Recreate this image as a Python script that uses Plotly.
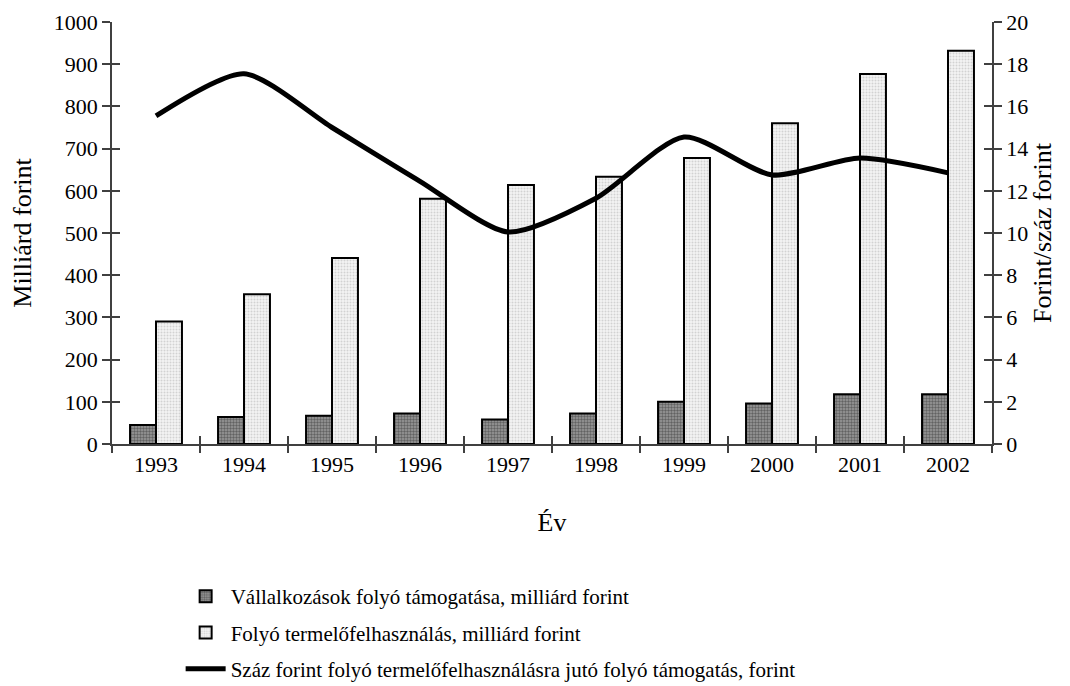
import plotly.graph_objects as go

years = [1993, 1994, 1995, 1996, 1997, 1998, 1999, 2000, 2001, 2002]
tamogatas = [45, 64, 67, 72, 58, 72, 100, 96, 118, 118]
felhasznalas = [290, 355, 441, 581, 614, 633, 678, 760, 877, 932]
arany = [15.55, 17.55, 15.0, 12.45, 10.05, 11.65, 14.55, 12.75, 13.55, 12.85]

names = [
    "Vállalkozások folyó támogatása, milliárd forint",
    "Folyó termelőfelhasználás, milliárd forint",
    "Száz forint folyó termelőfelhasználásra jutó folyó támogatás, forint",
]

FONT = "Liberation Serif"
AX = "#404040"

fig = go.Figure()
fig.add_trace(go.Bar(
    x=years, y=tamogatas, name=names[0], legendgroup="a",
    marker=dict(color="#8a8a8a", line=dict(color="black", width=2),
                pattern=dict(shape=".", fgcolor="#2a2a2a", bgcolor="#9a9a9a", size=3, solidity=0.5)),
))
fig.add_trace(go.Bar(
    x=years, y=felhasznalas, name=names[1], legendgroup="b",
    marker=dict(color="#e6e6e6", line=dict(color="black", width=2),
                pattern=dict(shape=".", fgcolor="#b0b0b0", bgcolor="#f4f4f4", size=3, solidity=0.35)),
))
fig.add_trace(go.Scatter(
    x=years, y=arany, name=names[2], legendgroup="c", yaxis="y2",
    mode="lines", line=dict(color="black", width=5, shape="spline", smoothing=0.7),
))
# invisible anchors so the tick-only overlay axes get drawn
fig.add_trace(go.Scatter(x=[years[0]], y=[0], xaxis="x2", yaxis="y3", mode="markers",
                         marker=dict(opacity=0), showlegend=False, hoverinfo="skip"))
fig.add_trace(go.Scatter(x=[years[0]], y=[0], xaxis="x3", yaxis="y4", mode="markers",
                         marker=dict(opacity=0), showlegend=False, hoverinfo="skip"))

bounds = [y - 0.5 for y in years] + [years[-1] + 0.5]
xr = [1992.5, 2002.5]

tick_common = dict(ticklen=8, tickcolor=AX, tickwidth=1.5, showticklabels=False,
                   showline=False, showgrid=False, zeroline=False, automargin=False)

fig.update_layout(
    width=1070, height=686,
    margin=dict(l=104, r=86, t=14, b=250),
    paper_bgcolor="white", plot_bgcolor="white",
    font=dict(family=FONT, size=22, color="black"),
    barmode="group", bargap=0.41, bargroupgap=0,
    showlegend=True,
    legend=dict(x=0.078, xanchor="left", xref="paper",
                y=0.172, yanchor="top", yref="container",
                traceorder="grouped", tracegroupgap=6,
                font=dict(family=FONT, size=21), itemwidth=40,
                bgcolor="rgba(0,0,0,0)"),
    xaxis=dict(range=xr, tickmode="array", tickvals=years, ticktext=[str(y) for y in years],
               ticks="", showline=True, linecolor=AX, linewidth=1.5, showgrid=False, zeroline=False,
               automargin=False, title=dict(text="Év", standoff=37)),
    xaxis2=dict(range=xr, overlaying="x", anchor="y3", side="bottom", tickmode="array",
                tickvals=bounds, ticks="outside", **tick_common),
    xaxis3=dict(range=xr, overlaying="x", anchor="y4", side="bottom", tickmode="array",
                tickvals=bounds, ticks="inside", **tick_common),
    yaxis=dict(range=[0, 1000], dtick=100, ticks="outside", ticklen=8, tickcolor=AX, tickwidth=1.5,
               showline=True, linecolor=AX, linewidth=1.5, showgrid=False, zeroline=False,
               automargin=False, title=dict(text="Milliárd forint", standoff=18)),
    yaxis2=dict(range=[0, 20], dtick=2, overlaying="y", side="right", ticks="outside", ticklen=8,
                tickcolor=AX, tickwidth=1.5, showline=True, linecolor=AX, linewidth=1.5,
                showgrid=False, zeroline=False, automargin=False,
                title=dict(text="Forint/száz forint", standoff=0)),
    yaxis3=dict(range=[0, 1000], dtick=100, overlaying="y", side="left", anchor="x2",
                ticks="inside", **tick_common),
    yaxis4=dict(range=[0, 20], dtick=2, overlaying="y", side="right", anchor="x3",
                ticks="inside", **tick_common),
)

fig.write_html("out.html")
